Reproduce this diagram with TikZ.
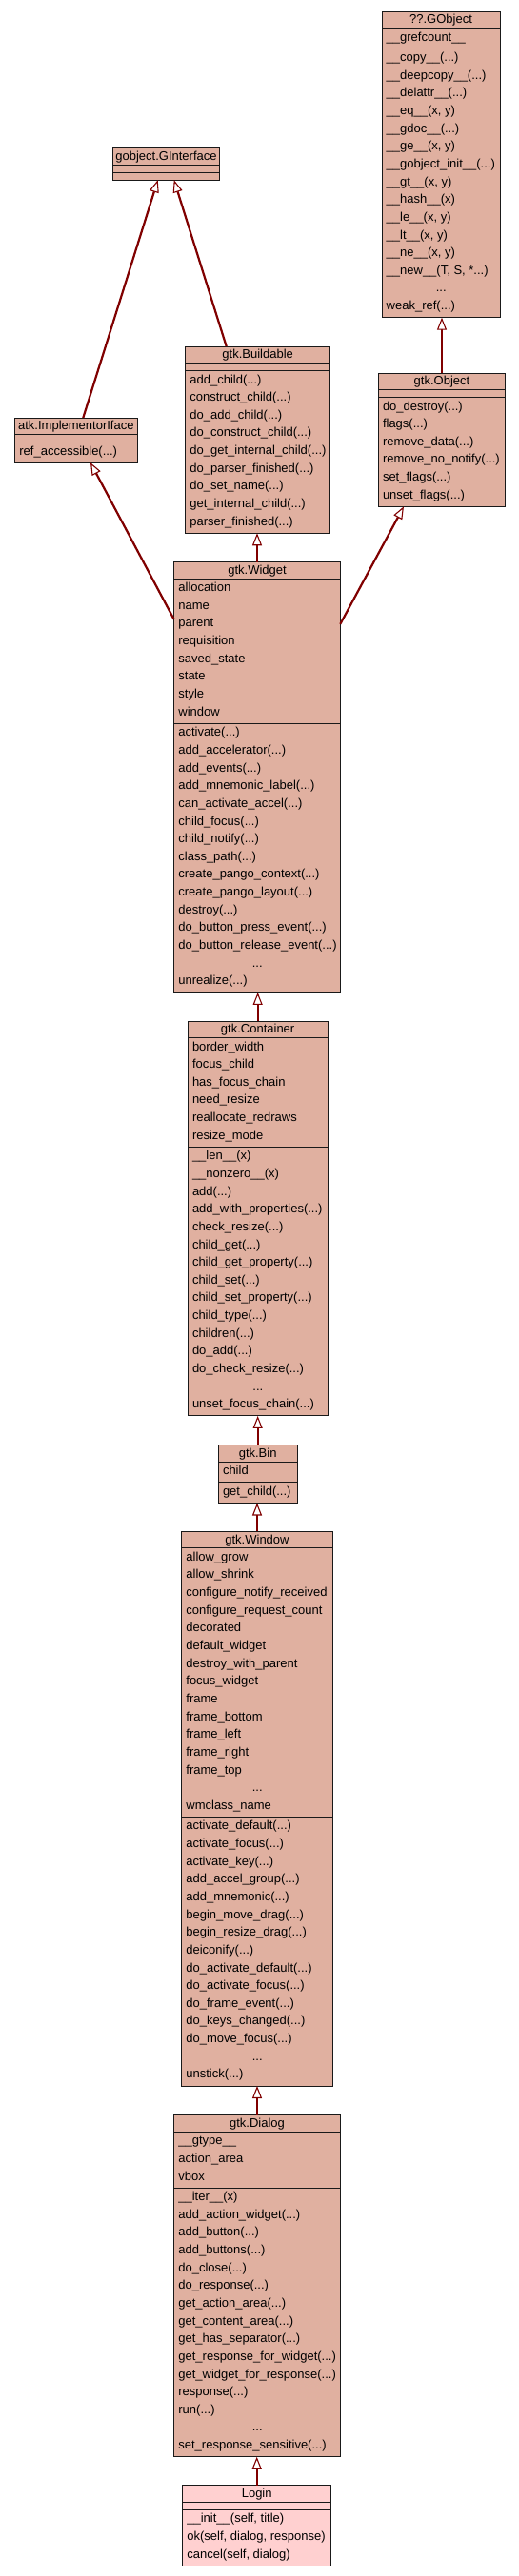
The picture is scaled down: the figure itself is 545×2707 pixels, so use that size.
\documentclass[tikz,border=0pt]{standalone}
\usepackage{fontspec}
\setmainfont{Liberation Sans}
\usetikzlibrary{arrows.meta,calc}
\definecolor{basebg}{HTML}{E0B0A0}
\definecolor{selbg}{HTML}{FFD0D0}
\definecolor{inhcol}{HTML}{800000}
\newlength\rowwd
\newcount\rowi
\newcount\rowuid
\newcommand\dotsrow{\makebox[\rowwd][c]{...}}
\newcommand\rowat[3]{%
  \pgfmathsetmacro\rowy{#2+13.5+\the\rowi*18.64}%
  \global\advance\rowuid by 1\relax
  \node[rowtext] (row\the\rowuid) at (#1,\rowy) {#3};%
  \global\advance\rowi by 1\relax}
\ExplSyntaxOn
\cs_new_protected:Npn \umlrows #1#2#3
  { \global\rowi=0\relax \clist_map_inline:nn {#3} { \rowat{#1}{#2}{##1} } }
\ExplSyntaxOff
\newcommand\umlbox[8]{%
  \pgfmathsetmacro\bw{#3-#2}%
  \pgfmathsetmacro\sA{17.5}%
  \pgfmathsetmacro\hA{#5>0 ? #5*18.64+3 : 8}%
  \pgfmathsetmacro\hB{#6>0 ? #6*18.64+3 : 8}%
  \pgfmathsetmacro\sB{\sA+\hA}%
  \pgfmathsetmacro\bh{\sB+\hB}%
  \node[classbox, fill=#8, minimum width=\bw pt, minimum height=\bh pt] (#1) at (#2,#4) {};
  \draw[umlsep] ($(#1.north west)+(0,\sA)$) -- ($(#1.north east)+(0,\sA)$);
  \draw[umlsep] ($(#1.north west)+(0,\sB)$) -- ($(#1.north east)+(0,\sB)$);
  \node[titletext] (#1-title) at ($(#1.north)+(0,12.8)$) {#7};
  \pgfmathsetmacro\attrY{#4+\sA}%
  \pgfmathsetmacro\methY{#4+\sB}%
  \pgfmathsetmacro\textX{#2+4.5}%
  \global\rowwd=\dimexpr\bw pt-9pt\relax
}
\begin{document}
\catcode`\_=12
\begin{tikzpicture}[x=1pt,y=-1pt,
  classbox/.style={rectangle, draw=black!90, line width=1pt, inner sep=0pt, outer sep=0pt, anchor=north west},
  umlsep/.style={draw=black!90, line width=1pt},
  titletext/.style={anchor=base, inner sep=0pt, font=\fontsize{13}{15}\selectfont},
  rowtext/.style={anchor=base west, inner sep=0pt, font=\fontsize{13}{15}\selectfont},
  inh/.style={draw=inhcol, line width=2.2pt, -{Triangle[length=13pt,width=10pt,fill=white,line width=1.1pt]}}]
\fill[white] (0,0) rectangle (545,2707);
\useasboundingbox (0,0) rectangle (545,2707);

\umlbox{gobject}{401}{525}{12}{1}{15}{??.GObject}{basebg}
\umlrows{\textX}{\attrY}{__grefcount__}
\umlrows{\textX}{\methY}{__copy__(...), __deepcopy__(...), __delattr__(...), {__eq__(x, y)}, __gdoc__(...), {__ge__(x, y)}, __gobject_init__(...), {__gt__(x, y)}, __hash__(x), {__le__(x, y)}, {__lt__(x, y)}, {__ne__(x, y)}, {__new__(T, S, *...)}, \dotsrow, weak_ref(...)}

\umlbox{ginterface}{118.3}{230.7}{155.7}{0}{0}{gobject.GInterface}{basebg}

\umlbox{iface}{15.7}{144}{439}{0}{1}{atk.ImplementorIface}{basebg}
\umlrows{\textX}{\methY}{ref_accessible(...)}

\umlbox{buildable}{194.7}{346.7}{364}{0}{9}{gtk.Buildable}{basebg}
\umlrows{\textX}{\methY}{add_child(...), construct_child(...), do_add_child(...), do_construct_child(...), do_get_internal_child(...), do_parser_finished(...), do_set_name(...), get_internal_child(...), parser_finished(...)}

\umlbox{object}{397.3}{530.7}{392}{0}{6}{gtk.Object}{basebg}
\umlrows{\textX}{\methY}{do_destroy(...), flags(...), remove_data(...), remove_no_notify(...), set_flags(...), unset_flags(...)}

\umlbox{widget}{182.7}{357.3}{590.7}{8}{15}{gtk.Widget}{basebg}
\umlrows{\textX}{\attrY}{allocation, name, parent, requisition, saved_state, state, style, window}
\umlrows{\textX}{\methY}{activate(...), add_accelerator(...), add_events(...), add_mnemonic_label(...), can_activate_accel(...), child_focus(...), child_notify(...), class_path(...), create_pango_context(...), create_pango_layout(...), destroy(...), do_button_press_event(...), do_button_release_event(...), \dotsrow, unrealize(...)}

\umlbox{container}{197.3}{344}{1073}{6}{15}{gtk.Container}{basebg}
\umlrows{\textX}{\attrY}{border_width, focus_child, has_focus_chain, need_resize, reallocate_redraws, resize_mode}
\umlrows{\textX}{\methY}{__len__(x), __nonzero__(x), add(...), add_with_properties(...), check_resize(...), child_get(...), child_get_property(...), child_set(...), child_set_property(...), child_type(...), children(...), do_add(...), do_check_resize(...), \dotsrow, unset_focus_chain(...)}

\umlbox{bin}{229.3}{312}{1518.7}{1}{1}{gtk.Bin}{basebg}
\umlrows{\textX}{\attrY}{child}
\umlrows{\textX}{\methY}{get_child(...)}

\umlbox{window}{190.7}{349.3}{1609.3}{15}{15}{gtk.Window}{basebg}
\umlrows{\textX}{\attrY}{allow_grow, allow_shrink, configure_notify_received, configure_request_count, decorated, default_widget, destroy_with_parent, focus_widget, frame, frame_bottom, frame_left, frame_right, frame_top, \dotsrow, wmclass_name}
\umlrows{\textX}{\methY}{activate_default(...), activate_focus(...), activate_key(...), add_accel_group(...), add_mnemonic(...), begin_move_drag(...), begin_resize_drag(...), deiconify(...), do_activate_default(...), do_activate_focus(...), do_frame_event(...), do_keys_changed(...), do_move_focus(...), \dotsrow, unstick(...)}

\umlbox{dialog}{182.7}{357.3}{2222.7}{3}{15}{gtk.Dialog}{basebg}
\umlrows{\textX}{\attrY}{__gtype__, action_area, vbox}
\umlrows{\textX}{\methY}{__iter__(x), add_action_widget(...), add_button(...), add_buttons(...), do_close(...), do_response(...), get_action_area(...), get_content_area(...), get_has_separator(...), get_response_for_widget(...), get_widget_for_response(...), response(...), run(...), \dotsrow, set_response_sensitive(...)}

\umlbox{login}{191.7}{347.7}{2611.7}{0}{3}{Login}{selbg}
\umlrows{\textX}{\methY}{{__init__(self, title)}, {ok(self, dialog, response)}, {cancel(self, dialog)}}

% inheritance connectors
\draw[inh] ($(iface.north west)!0.558!(iface.north east)$) -- ($(ginterface.south west)!0.422!(ginterface.south east)$);
\draw[inh] ($(buildable.north west)!0.283!(buildable.north east)$) -- ($(ginterface.south west)!0.573!(ginterface.south east)$);
\draw[inh] ($(widget.north west)!0.133!(widget.south west)$) -- ($(iface.south west)!0.618!(iface.south east)$);
\draw[inh] ($(widget.north east)!0.144!(widget.south east)$) -- ($(object.south west)!0.2!(object.south east)$);
\draw[inh] (object.north) -- (object.north |- gobject.south);
\draw[inh] (widget.north) -- (widget.north |- buildable.south);
\draw[inh] (container.north) -- (container.north |- widget.south);
\draw[inh] (bin.north) -- (bin.north |- container.south);
\draw[inh] (window.north) -- (window.north |- bin.south);
\draw[inh] (dialog.north) -- (dialog.north |- window.south);
\draw[inh] (login.north) -- (login.north |- dialog.south);
\end{tikzpicture}
\end{document}
